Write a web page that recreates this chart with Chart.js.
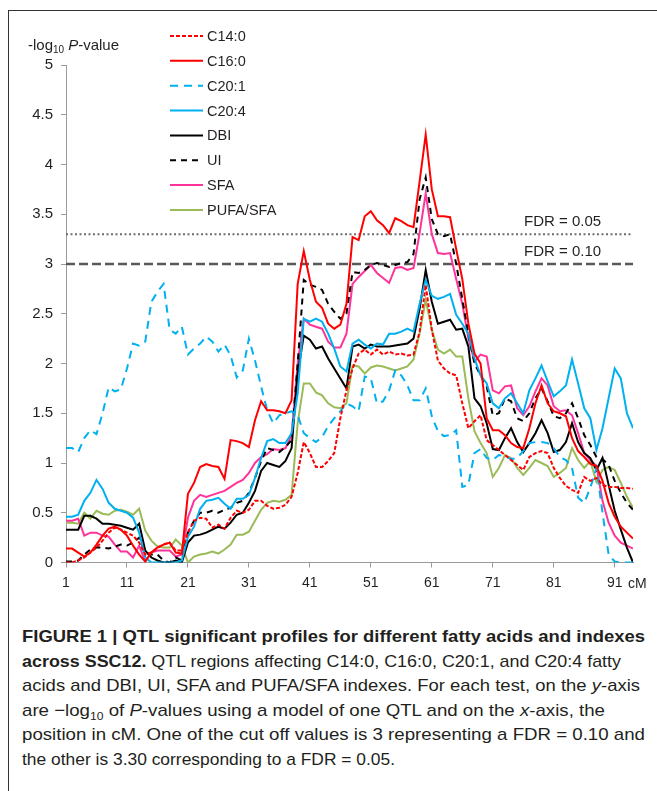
<!DOCTYPE html>
<html><head><meta charset="utf-8">
<script src="https://cdn.jsdelivr.net/npm/chart.js@4.4.0/dist/chart.umd.min.js"></script>
<style>
html,body{margin:0;padding:0;background:#fff;}
body{width:657px;height:791px;position:relative;overflow:hidden;font-family:"Liberation Sans",Arial,sans-serif;}
#frame{position:absolute;left:8px;top:10px;width:700px;height:800px;border-left:1px solid #333;border-top:1px solid #333;}
#wrap{position:absolute;left:0;top:0;width:657px;height:600px;}
#cap{position:absolute;left:22px;top:625px;font-family:"Liberation Sans Narrow","Arial Narrow","Liberation Sans",sans-serif;font-size:17px;line-height:24.6px;color:#231f20;white-space:nowrap;}
#cap .l{height:24.6px;}
#cap .l span{display:inline-block;transform-origin:0 50%;}
#cap sub{font-size:11px;line-height:0;}
</style></head>
<body>
<div id="frame"></div>
<div id="wrap"><canvas id="c" width="657" height="600"></canvas></div>
<div id="cap">
<div class="l"><span data-w="623"><b>FIGURE 1 | QTL significant profiles for different fatty acids and indexes</b></span></div>
<div class="l"><span data-w="599"><b>across SSC12.</b> QTL regions affecting C14:0, C16:0, C20:1, and C20:4 fatty</span></div>
<div class="l"><span data-w="618">acids and DBI, UI, SFA and PUFA/SFA indexes. For each test, on the <i>y</i>-axis</span></div>
<div class="l"><span data-w="583">are −log<sub>10</sub> of <i>P</i>-values using a model of one QTL and on the <i>x</i>-axis, the</span></div>
<div class="l"><span data-w="623">position in cM. One of the cut off values is 3 representing a FDR = 0.10 and</span></div>
<div class="l"><span data-w="373">the other is 3.30 corresponding to a FDR = 0.05.</span></div>
</div>
<script>
// ---- data ----
const cM = Array.from({length: 94}, (_, i) => i + 1);
const xTickValues = [1, 11, 21, 31, 41, 51, 61, 71, 81, 91];
const seriesNames = ['C14:0', 'C16:0', 'C20:1', 'C20:4', 'DBI', 'UI', 'SFA', 'PUFA/SFA'];
const fdrValues = [3.3, 3.0];
const fdrLabels = ['FDR = 0.05', 'FDR = 0.10'];

const c14_0 = [0,0,0.02,0.05,0.1,0.15,0.22,0.3,0.35,0.33,
  0.3,0.27,0.2,0.08,0.1,0.15,0.18,0.2,0.12,0.12,
  0.3,0.42,0.45,0.44,0.35,0.38,0.34,0.45,0.52,0.5,
  0.53,0.62,0.62,0.57,0.54,0.55,0.58,0.66,0.9,1.21,
  1.1,0.96,0.96,1.02,1.1,1.45,1.73,1.95,2.1,2.14,
  2.09,2.14,2.09,2.12,2.09,2.1,2.08,2.09,2.32,2.79,
  2.34,2.03,1.95,1.9,1.88,1.6,1.35,1.42,1.48,1.23,
  1.18,1.13,1.08,1.03,0.98,0.93,1.06,1.1,1.12,1.1,
  0.95,0.85,0.77,0.73,0.7,0.86,0.82,0.85,0.78,0.76,
  0.76,0.75,0.75,0.74];
const c16_0 = [0.14,0.14,0.1,0.06,0.1,0.18,0.27,0.34,0.36,0.33,
  0.27,0.17,0.08,0.01,0.1,0.15,0.18,0.2,0.1,0.09,
  0.69,0.8,0.96,0.99,0.97,0.96,0.84,1.23,1.22,1.2,
  1.16,1.43,1.62,1.53,1.53,1.52,1.5,1.63,2.8,3.13,
  2.84,2.62,2.56,2.4,2.35,2.39,2.6,3.27,3.24,3.48,
  3.53,3.44,3.39,3.31,3.46,3.43,3.39,3.37,3.83,4.3,
  3.75,3.48,3.48,3.47,3.15,2.85,2.4,2.1,2.0,1.45,
  1.33,1.33,1.28,1.2,1.16,1.15,1.35,1.6,1.78,1.6,
  1.52,1.5,1.47,1.25,1.12,1.06,0.99,0.97,0.82,0.6,
  0.46,0.36,0.3,0.24];
const c20_1 = [1.15,1.15,1.11,1.25,1.33,1.29,1.5,1.76,1.72,1.74,
  1.95,2.2,2.18,2.22,2.62,2.72,2.8,2.34,2.3,2.37,
  2.09,2.15,2.2,2.27,2.22,2.12,2.19,2.08,1.86,1.93,
  2.25,2.03,1.77,1.53,1.4,1.48,1.5,1.52,1.48,1.3,
  1.25,1.21,1.26,1.37,1.45,1.52,1.6,1.57,1.52,1.87,
  1.85,1.6,1.62,1.73,1.93,1.88,1.78,1.63,1.63,1.75,
  1.47,1.32,1.27,1.28,1.33,0.76,0.78,1.1,1.14,1.05,
  1.03,1.08,1.07,1.04,1.05,1.12,1.2,1.21,1.21,1.2,
  1.15,1.06,1.03,0.95,0.65,0.6,0.75,0.95,0.5,0.08,
  0.01,0,0,0];
const c20_4 = [0.46,0.46,0.48,0.62,0.7,0.83,0.74,0.6,0.54,0.52,
  0.5,0.45,0.3,0.05,0,0,0,0,0,0.02,
  0.26,0.36,0.54,0.62,0.63,0.65,0.59,0.54,0.64,0.64,
  0.68,0.85,1.05,1.22,1.24,1.2,1.2,1.3,1.7,2.45,
  2.42,2.45,2.42,2.3,2.15,1.97,1.92,2.2,2.24,2.19,
  2.15,2.2,2.19,2.3,2.3,2.32,2.35,2.32,2.6,2.84,
  2.68,2.65,2.67,2.7,2.49,2.4,2.3,2.05,1.88,1.8,
  1.6,1.55,1.65,1.7,1.6,1.5,1.73,1.85,1.98,1.82,
  1.67,1.72,1.78,2.04,1.8,1.55,1.45,1.13,1.35,1.65,
  1.95,1.85,1.5,1.35];
const dbi = [0.33,0.33,0.33,0.47,0.47,0.44,0.39,0.39,0.38,0.37,
  0.35,0.33,0.39,0.12,0.05,0.02,0,0,0.02,0,
  0.2,0.27,0.28,0.3,0.33,0.36,0.34,0.4,0.48,0.5,
  0.6,0.72,0.92,1.0,0.98,0.96,1.02,1.15,1.9,2.28,
  2.24,2.15,2.17,2.05,1.95,1.85,1.75,2.17,2.19,2.15,
  2.19,2.17,2.17,2.17,2.18,2.19,2.2,2.25,2.55,2.94,
  2.62,2.4,2.42,2.44,2.34,2.35,2.17,1.65,1.57,1.4,
  1.14,1.13,1.25,1.35,1.21,1.11,1.2,1.3,1.43,1.3,
  1.11,1.13,1.21,1.4,1.21,1.1,1.05,0.93,1.05,0.78,
  0.52,0.33,0.15,0];
const ui = [0.01,0.01,0.02,0.08,0.13,0.15,0.15,0.14,0.16,0.18,
  0.17,0.2,0.25,0.1,0.08,0.08,0.02,0,0.05,0.02,
  0.3,0.42,0.5,0.5,0.52,0.5,0.53,0.55,0.6,0.62,
  0.7,0.85,1.02,1.15,1.13,1.11,1.16,1.23,2.0,2.84,
  2.79,2.77,2.74,2.6,2.52,2.45,2.5,2.92,2.91,2.94,
  2.99,3.01,2.99,2.97,2.99,3.01,3.02,3.1,3.65,3.87,
  3.45,3.3,3.28,3.3,3.0,2.65,2.3,2.0,1.88,1.77,
  1.48,1.5,1.65,1.62,1.45,1.42,1.5,1.65,1.75,1.62,
  1.47,1.45,1.5,1.6,1.45,1.28,1.18,1.06,1.04,0.98,
  0.82,0.7,0.6,0.53];
const sfa = [0.42,0.42,0.44,0.27,0.3,0.3,0.27,0.26,0.18,0.11,
  0.11,0.05,0.17,0.01,0.1,0.12,0.12,0.12,0.06,0.08,
  0.45,0.62,0.68,0.66,0.68,0.7,0.72,0.76,0.8,0.83,
  0.9,1.0,1.06,1.09,1.14,1.13,1.15,1.28,2.0,2.45,
  2.39,2.37,2.35,2.22,2.16,2.16,2.3,2.8,2.87,2.93,
  2.99,2.91,2.86,2.81,2.96,2.97,2.94,2.96,3.31,3.71,
  3.3,3.11,3.1,3.11,2.85,2.6,2.25,2.02,2.09,2.07,
  1.73,1.7,1.77,1.78,1.55,1.48,1.57,1.72,1.85,1.78,
  1.57,1.52,1.53,1.48,1.3,1.1,1.03,0.97,0.62,0.4,
  0.27,0.2,0.17,0.14];
const pufaSfa = [0.4,0.4,0.39,0.5,0.44,0.52,0.49,0.48,0.52,0.53,
  0.51,0.48,0.54,0.32,0.22,0.16,0.15,0.15,0.23,0.17,
  0,0.06,0.08,0.09,0.11,0.09,0.13,0.18,0.28,0.28,
  0.31,0.42,0.53,0.6,0.62,0.61,0.63,0.68,1.4,1.8,
  1.8,1.71,1.68,1.6,1.56,1.55,1.6,1.98,1.97,1.9,
  1.96,1.98,1.97,1.95,1.93,1.95,1.97,2.04,2.3,2.64,
  2.34,2.14,2.1,2.14,2.07,2.07,1.65,1.32,1.2,1.1,
  0.86,0.95,1.08,1.05,0.95,0.88,0.95,1.03,1.0,0.97,
  0.86,0.9,0.95,1.15,1.03,0.95,1.02,0.81,0.93,0.96,
  0.93,0.8,0.66,0.55];

// ---- styles ----
const seriesValues = [c14_0, c16_0, c20_1, c20_4, dbi, ui, sfa, pufaSfa];
const seriesColors = ['#ff0000', '#ff0000', '#00b0f0', '#00b0f0', '#000000', '#000000', '#ff3399', '#9bbb59'];
const seriesDash = [[4, 2], [], [8, 6], [], [], [6, 5], [], []];
const FONT = '"Liberation Sans", Arial, sans-serif';

const datasets = seriesNames.map((name, k) => ({
  label: name,
  data: cM.map((x, i) => ({x: x, y: seriesValues[k][i]})),
  borderColor: seriesColors[k],
  borderDash: seriesDash[k],
  borderWidth: 2,
  pointRadius: 0,
  tension: 0,
  fill: false
}));
const fdrStyles = [{dash: [2, 2.5], width: 2, color: '#6d6d6d'}, {dash: [9, 4], width: 2.5, color: '#595959'}];
fdrValues.forEach((v, k) => {
  datasets.push({
    label: fdrLabels[k],
    data: [{x: cM[0], y: v}, {x: cM[cM.length - 1], y: v}],
    borderColor: fdrStyles[k].color,
    borderDash: fdrStyles[k].dash,
    borderWidth: fdrStyles[k].width,
    pointRadius: 0,
    fill: false,
    order: 10
  });
});

const decor = {
  id: 'decor',
  afterDraw(chart) {
    const ctx = chart.ctx;
    const ys = chart.scales.y;
    ctx.save();
    ctx.fillStyle = '#231f20';
    // y-axis title
    ctx.textBaseline = 'alphabetic';
    ctx.textAlign = 'left';
    let x = 28, yb = 50;
    ctx.font = '15px ' + FONT;
    ctx.fillText('-log', x, yb); x += ctx.measureText('-log').width;
    ctx.font = '10px ' + FONT;
    ctx.fillText('10', x, yb + 3); x += ctx.measureText('10').width + 4;
    ctx.font = 'italic 15px ' + FONT;
    ctx.fillText('P', x, yb); x += ctx.measureText('P').width;
    ctx.font = '15px ' + FONT;
    ctx.fillText('-value', x, yb);
    // x unit
    ctx.font = '14px ' + FONT;
    ctx.textBaseline = 'middle';
    ctx.fillText('cM', 628, 584);
    // FDR labels
    ctx.font = '15px ' + FONT;
    fdrValues.forEach((v, k) => {
      ctx.fillText(fdrLabels[k], 524, ys.getPixelForValue(v) - 12);
    });
    // legend
    ctx.font = '14.5px ' + FONT;
    seriesNames.forEach((name, k) => {
      const yy = 36 + k * 24.85;
      const ds = chart.data.datasets[k];
      ctx.save();
      ctx.strokeStyle = ds.borderColor;
      ctx.lineWidth = 2;
      ctx.setLineDash(ds.borderDash);
      ctx.beginPath();
      ctx.moveTo(170, yy); ctx.lineTo(203, yy);
      ctx.stroke();
      ctx.restore();
      ctx.fillText(name, 207, yy + 1);
    });
    ctx.restore();
  }
};

new Chart(document.getElementById('c'), {
  type: 'line',
  data: {datasets: datasets},
  options: {
    responsive: false,
    animation: false,
    layout: {padding: {top: 65, right: 24, left: 0, bottom: 0}},
    plugins: {legend: {display: false}, tooltip: {enabled: false}},
    scales: {
      x: {
        type: 'linear', min: cM[0], max: cM[cM.length - 1],
        afterBuildTicks: s => { s.ticks = xTickValues.map(v => ({value: v})); },
        afterFit: s => { s.height = 37.5; },
        grid: {display: true, drawOnChartArea: false, drawTicks: true, tickLength: 5, color: '#9a9a9a'},
        border: {display: true, color: '#9a9a9a', width: 1},
        ticks: {color: '#231f20', font: {family: FONT, size: 14}, padding: 7, maxRotation: 0, autoSkip: false,
                callback: v => String(v)}
      },
      y: {
        min: 0, max: 5,
        afterFit: s => { s.width = 66; },
        grid: {display: true, drawOnChartArea: false, drawTicks: true, tickLength: 5, color: '#9a9a9a'},
        border: {display: true, color: '#9a9a9a', width: 1},
        ticks: {stepSize: 0.5, color: '#231f20', font: {family: FONT, size: 15}, padding: 8,
                callback: v => String(Math.round(v * 10) / 10)}
      }
    }
  },
  plugins: [decor]
});

// fit caption lines to the reference line widths
document.querySelectorAll('#cap .l span').forEach(sp => {
  const target = parseFloat(sp.dataset.w);
  const w = sp.getBoundingClientRect().width;
  if (w > 0) sp.style.transform = 'scaleX(' + (target / w) + ')';
});
</script>
</body></html>
